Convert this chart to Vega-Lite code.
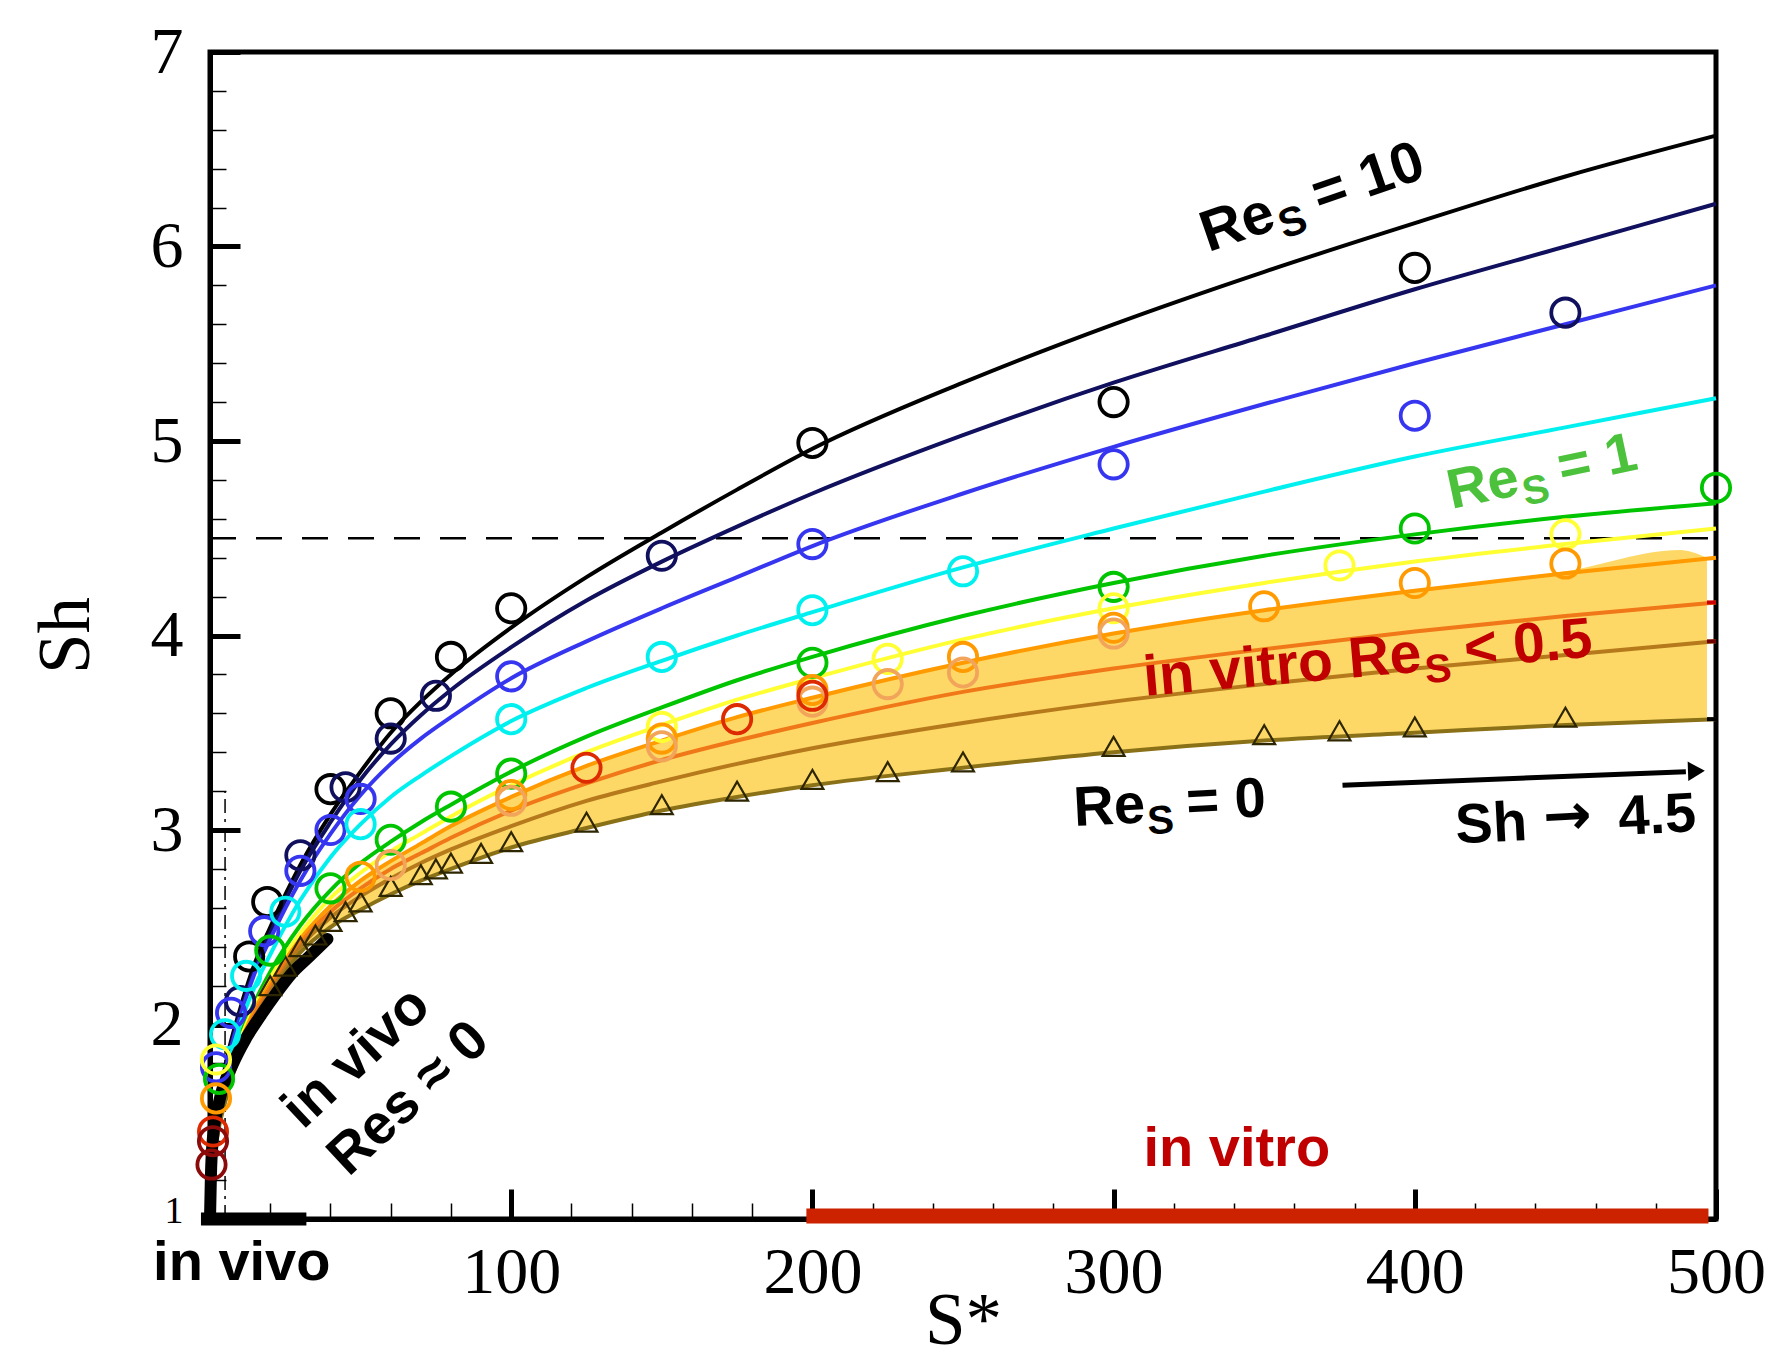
{
 "$schema": "https://vega.github.io/schema/vega-lite/v6.json",
 "width": 1506, "height": 1167,
 "autosize": {"type": "none"},
 "padding": {"left": 210, "top": 52, "right": 58, "bottom": 141},
 "background": "white",
 "config": {"view": {"stroke": "#000", "strokeWidth": 5}},
 "datasets": {
  "curves": [
   {"s":"Re10","S":0,"Sh":1.0},{"s":"Re10","S":1,"Sh":1.35},{"s":"Re10","S":2.5,"Sh":1.55},{"s":"Re10","S":5,"Sh":1.78},{"s":"Re10","S":10,"Sh":2.08},{"s":"Re10","S":15,"Sh":2.32},{"s":"Re10","S":20,"Sh":2.5},{"s":"Re10","S":30,"Sh":2.82},{"s":"Re10","S":40,"Sh":3.08},{"s":"Re10","S":50,"Sh":3.3},{"s":"Re10","S":60,"Sh":3.5},{"s":"Re10","S":70,"Sh":3.66},{"s":"Re10","S":80,"Sh":3.8},{"s":"Re10","S":100,"Sh":4.04},{"s":"Re10","S":125,"Sh":4.3},{"s":"Re10","S":150,"Sh":4.53},{"s":"Re10","S":175,"Sh":4.75},{"s":"Re10","S":200,"Sh":4.96},{"s":"Re10","S":250,"Sh":5.3},{"s":"Re10","S":300,"Sh":5.6},{"s":"Re10","S":350,"Sh":5.87},{"s":"Re10","S":400,"Sh":6.12},{"s":"Re10","S":450,"Sh":6.36},{"s":"Re10","S":500,"Sh":6.57},
   {"s":"n","S":0,"Sh":1.0},{"s":"n","S":1,"Sh":1.34},{"s":"n","S":2.5,"Sh":1.54},{"s":"n","S":5,"Sh":1.76},{"s":"n","S":10,"Sh":2.06},{"s":"n","S":15,"Sh":2.29},{"s":"n","S":20,"Sh":2.47},{"s":"n","S":30,"Sh":2.79},{"s":"n","S":40,"Sh":3.04},{"s":"n","S":50,"Sh":3.26},{"s":"n","S":60,"Sh":3.44},{"s":"n","S":70,"Sh":3.59},{"s":"n","S":80,"Sh":3.72},{"s":"n","S":100,"Sh":3.94},{"s":"n","S":125,"Sh":4.18},{"s":"n","S":150,"Sh":4.38},{"s":"n","S":175,"Sh":4.56},{"s":"n","S":200,"Sh":4.73},{"s":"n","S":250,"Sh":5.03},{"s":"n","S":300,"Sh":5.3},{"s":"n","S":350,"Sh":5.54},{"s":"n","S":400,"Sh":5.78},{"s":"n","S":450,"Sh":6.0},{"s":"n","S":500,"Sh":6.22},
   {"s":"b","S":0,"Sh":1.0},{"s":"b","S":1,"Sh":1.33},{"s":"b","S":2.5,"Sh":1.53},{"s":"b","S":5,"Sh":1.75},{"s":"b","S":10,"Sh":2.04},{"s":"b","S":15,"Sh":2.27},{"s":"b","S":20,"Sh":2.44},{"s":"b","S":30,"Sh":2.74},{"s":"b","S":40,"Sh":2.98},{"s":"b","S":50,"Sh":3.18},{"s":"b","S":60,"Sh":3.34},{"s":"b","S":70,"Sh":3.47},{"s":"b","S":80,"Sh":3.58},{"s":"b","S":100,"Sh":3.78},{"s":"b","S":125,"Sh":3.97},{"s":"b","S":150,"Sh":4.14},{"s":"b","S":175,"Sh":4.3},{"s":"b","S":200,"Sh":4.46},{"s":"b","S":250,"Sh":4.73},{"s":"b","S":300,"Sh":4.97},{"s":"b","S":350,"Sh":5.19},{"s":"b","S":400,"Sh":5.4},{"s":"b","S":450,"Sh":5.6},{"s":"b","S":500,"Sh":5.8},
   {"s":"c","S":0,"Sh":1.0},{"s":"c","S":1,"Sh":1.3},{"s":"c","S":2.5,"Sh":1.5},{"s":"c","S":5,"Sh":1.72},{"s":"c","S":10,"Sh":2.0},{"s":"c","S":15,"Sh":2.2},{"s":"c","S":20,"Sh":2.36},{"s":"c","S":30,"Sh":2.64},{"s":"c","S":40,"Sh":2.86},{"s":"c","S":50,"Sh":3.03},{"s":"c","S":60,"Sh":3.17},{"s":"c","S":70,"Sh":3.28},{"s":"c","S":80,"Sh":3.38},{"s":"c","S":100,"Sh":3.56},{"s":"c","S":125,"Sh":3.73},{"s":"c","S":150,"Sh":3.87},{"s":"c","S":175,"Sh":4.0},{"s":"c","S":200,"Sh":4.12},{"s":"c","S":250,"Sh":4.35},{"s":"c","S":300,"Sh":4.55},{"s":"c","S":350,"Sh":4.74},{"s":"c","S":400,"Sh":4.92},{"s":"c","S":450,"Sh":5.07},{"s":"c","S":500,"Sh":5.22},
   {"s":"Re1","S":0,"Sh":1.0},{"s":"Re1","S":1,"Sh":1.29},{"s":"Re1","S":2.5,"Sh":1.48},{"s":"Re1","S":5,"Sh":1.68},{"s":"Re1","S":10,"Sh":1.94},{"s":"Re1","S":15,"Sh":2.12},{"s":"Re1","S":20,"Sh":2.27},{"s":"Re1","S":30,"Sh":2.51},{"s":"Re1","S":40,"Sh":2.69},{"s":"Re1","S":50,"Sh":2.83},{"s":"Re1","S":60,"Sh":2.94},{"s":"Re1","S":70,"Sh":3.04},{"s":"Re1","S":80,"Sh":3.13},{"s":"Re1","S":100,"Sh":3.3},{"s":"Re1","S":125,"Sh":3.48},{"s":"Re1","S":150,"Sh":3.63},{"s":"Re1","S":175,"Sh":3.77},{"s":"Re1","S":200,"Sh":3.89},{"s":"Re1","S":250,"Sh":4.1},{"s":"Re1","S":300,"Sh":4.27},{"s":"Re1","S":350,"Sh":4.41},{"s":"Re1","S":400,"Sh":4.52},{"s":"Re1","S":450,"Sh":4.61},{"s":"Re1","S":500,"Sh":4.68},
   {"s":"y","S":0,"Sh":1.0},{"s":"y","S":1,"Sh":1.28},{"s":"y","S":2.5,"Sh":1.47},{"s":"y","S":5,"Sh":1.66},{"s":"y","S":10,"Sh":1.92},{"s":"y","S":15,"Sh":2.1},{"s":"y","S":20,"Sh":2.24},{"s":"y","S":30,"Sh":2.47},{"s":"y","S":40,"Sh":2.65},{"s":"y","S":50,"Sh":2.78},{"s":"y","S":60,"Sh":2.89},{"s":"y","S":70,"Sh":2.98},{"s":"y","S":80,"Sh":3.07},{"s":"y","S":100,"Sh":3.23},{"s":"y","S":125,"Sh":3.4},{"s":"y","S":150,"Sh":3.54},{"s":"y","S":175,"Sh":3.67},{"s":"y","S":200,"Sh":3.78},{"s":"y","S":250,"Sh":3.98},{"s":"y","S":300,"Sh":4.14},{"s":"y","S":350,"Sh":4.27},{"s":"y","S":400,"Sh":4.38},{"s":"y","S":450,"Sh":4.47},{"s":"y","S":500,"Sh":4.55},
   {"s":"o","S":0,"Sh":1.0},{"s":"o","S":1,"Sh":1.27},{"s":"o","S":2.5,"Sh":1.46},{"s":"o","S":5,"Sh":1.65},{"s":"o","S":10,"Sh":1.9},{"s":"o","S":15,"Sh":2.08},{"s":"o","S":20,"Sh":2.21},{"s":"o","S":30,"Sh":2.44},{"s":"o","S":40,"Sh":2.61},{"s":"o","S":50,"Sh":2.74},{"s":"o","S":60,"Sh":2.84},{"s":"o","S":70,"Sh":2.93},{"s":"o","S":80,"Sh":3.02},{"s":"o","S":100,"Sh":3.17},{"s":"o","S":125,"Sh":3.33},{"s":"o","S":150,"Sh":3.46},{"s":"o","S":175,"Sh":3.58},{"s":"o","S":200,"Sh":3.68},{"s":"o","S":250,"Sh":3.86},{"s":"o","S":300,"Sh":4.01},{"s":"o","S":350,"Sh":4.13},{"s":"o","S":400,"Sh":4.23},{"s":"o","S":450,"Sh":4.32},{"s":"o","S":500,"Sh":4.4},
   {"s":"do","S":0,"Sh":1.0},{"s":"do","S":1,"Sh":1.26},{"s":"do","S":2.5,"Sh":1.45},{"s":"do","S":5,"Sh":1.63},{"s":"do","S":10,"Sh":1.88},{"s":"do","S":15,"Sh":2.06},{"s":"do","S":20,"Sh":2.19},{"s":"do","S":30,"Sh":2.42},{"s":"do","S":40,"Sh":2.58},{"s":"do","S":50,"Sh":2.7},{"s":"do","S":60,"Sh":2.8},{"s":"do","S":70,"Sh":2.88},{"s":"do","S":80,"Sh":2.96},{"s":"do","S":100,"Sh":3.1},{"s":"do","S":125,"Sh":3.24},{"s":"do","S":150,"Sh":3.36},{"s":"do","S":175,"Sh":3.46},{"s":"do","S":200,"Sh":3.55},{"s":"do","S":250,"Sh":3.71},{"s":"do","S":300,"Sh":3.83},{"s":"do","S":350,"Sh":3.93},{"s":"do","S":400,"Sh":4.02},{"s":"do","S":450,"Sh":4.1},{"s":"do","S":500,"Sh":4.17},
   {"s":"br","S":0,"Sh":1.0},{"s":"br","S":1,"Sh":1.25},{"s":"br","S":2.5,"Sh":1.44},{"s":"br","S":5,"Sh":1.62},{"s":"br","S":10,"Sh":1.87},{"s":"br","S":15,"Sh":2.04},{"s":"br","S":20,"Sh":2.17},{"s":"br","S":30,"Sh":2.4},{"s":"br","S":40,"Sh":2.55},{"s":"br","S":50,"Sh":2.66},{"s":"br","S":60,"Sh":2.75},{"s":"br","S":70,"Sh":2.83},{"s":"br","S":80,"Sh":2.9},{"s":"br","S":100,"Sh":3.02},{"s":"br","S":125,"Sh":3.15},{"s":"br","S":150,"Sh":3.25},{"s":"br","S":175,"Sh":3.34},{"s":"br","S":200,"Sh":3.42},{"s":"br","S":250,"Sh":3.55},{"s":"br","S":300,"Sh":3.66},{"s":"br","S":350,"Sh":3.75},{"s":"br","S":400,"Sh":3.83},{"s":"br","S":450,"Sh":3.9},{"s":"br","S":500,"Sh":3.97},
   {"s":"Re0","S":0,"Sh":1.0},{"s":"Re0","S":1,"Sh":1.24},{"s":"Re0","S":2.5,"Sh":1.43},{"s":"Re0","S":5,"Sh":1.6},{"s":"Re0","S":10,"Sh":1.85},{"s":"Re0","S":15,"Sh":2.02},{"s":"Re0","S":20,"Sh":2.15},{"s":"Re0","S":30,"Sh":2.37},{"s":"Re0","S":40,"Sh":2.5},{"s":"Re0","S":50,"Sh":2.59},{"s":"Re0","S":60,"Sh":2.67},{"s":"Re0","S":70,"Sh":2.74},{"s":"Re0","S":80,"Sh":2.8},{"s":"Re0","S":100,"Sh":2.91},{"s":"Re0","S":125,"Sh":3.01},{"s":"Re0","S":150,"Sh":3.1},{"s":"Re0","S":175,"Sh":3.17},{"s":"Re0","S":200,"Sh":3.23},{"s":"Re0","S":250,"Sh":3.32},{"s":"Re0","S":300,"Sh":3.4},{"s":"Re0","S":350,"Sh":3.46},{"s":"Re0","S":400,"Sh":3.5},{"s":"Re0","S":450,"Sh":3.54},{"s":"Re0","S":500,"Sh":3.57}
  ],
  "band": [
   {"S":0,"Sh":1.0,"Sh2":1.0},{"S":1,"Sh":1.24,"Sh2":1.27},{"S":2.5,"Sh":1.43,"Sh2":1.46},{"S":5,"Sh":1.6,"Sh2":1.65},{"S":10,"Sh":1.85,"Sh2":1.9},{"S":15,"Sh":2.02,"Sh2":2.08},{"S":20,"Sh":2.15,"Sh2":2.21},{"S":30,"Sh":2.37,"Sh2":2.44},{"S":40,"Sh":2.5,"Sh2":2.61},{"S":50,"Sh":2.59,"Sh2":2.74},{"S":60,"Sh":2.67,"Sh2":2.84},{"S":70,"Sh":2.74,"Sh2":2.93},{"S":80,"Sh":2.8,"Sh2":3.02},{"S":100,"Sh":2.91,"Sh2":3.17},{"S":125,"Sh":3.01,"Sh2":3.33},{"S":150,"Sh":3.1,"Sh2":3.46},{"S":175,"Sh":3.17,"Sh2":3.58},{"S":200,"Sh":3.23,"Sh2":3.68},{"S":250,"Sh":3.32,"Sh2":3.86},{"S":300,"Sh":3.4,"Sh2":4.01},{"S":350,"Sh":3.46,"Sh2":4.13},{"S":400,"Sh":3.5,"Sh2":4.23},{"S":450,"Sh":3.54,"Sh2":4.33},{"S":488,"Sh":3.565,"Sh2":4.44},{"S":497,"Sh":3.57,"Sh2":4.4}
  ],
  "circles": [
   {"s":"Re10","S":13,"Sh":2.35},{"s":"Re10","S":19,"Sh":2.63},{"s":"Re10","S":40,"Sh":3.21},{"s":"Re10","S":60,"Sh":3.6},{"s":"Re10","S":80,"Sh":3.89},{"s":"Re10","S":100,"Sh":4.14},{"s":"Re10","S":200,"Sh":4.99},{"s":"Re10","S":300,"Sh":5.2},{"s":"Re10","S":400,"Sh":5.89},
   {"s":"n","S":10,"Sh":2.12},{"s":"n","S":30,"Sh":2.87},{"s":"n","S":45,"Sh":3.22},{"s":"n","S":60,"Sh":3.47},{"s":"n","S":75,"Sh":3.69},{"s":"n","S":150,"Sh":4.41},{"s":"n","S":450,"Sh":5.66},
   {"s":"b","S":2,"Sh":1.78},{"s":"b","S":7,"Sh":2.06},{"s":"b","S":18,"Sh":2.48},{"s":"b","S":30,"Sh":2.79},{"s":"b","S":40,"Sh":3.0},{"s":"b","S":50,"Sh":3.16},{"s":"b","S":100,"Sh":3.79},{"s":"b","S":200,"Sh":4.47},{"s":"b","S":300,"Sh":4.88},{"s":"b","S":400,"Sh":5.13},
   {"s":"c","S":5,"Sh":1.95},{"s":"c","S":12,"Sh":2.25},{"s":"c","S":25,"Sh":2.58},{"s":"c","S":50,"Sh":3.03},{"s":"c","S":100,"Sh":3.57},{"s":"c","S":150,"Sh":3.89},{"s":"c","S":200,"Sh":4.13},{"s":"c","S":250,"Sh":4.33},
   {"s":"Re1","S":3,"Sh":1.72},{"s":"Re1","S":20,"Sh":2.38},{"s":"Re1","S":40,"Sh":2.7},{"s":"Re1","S":60,"Sh":2.95},{"s":"Re1","S":80,"Sh":3.12},{"s":"Re1","S":100,"Sh":3.29},{"s":"Re1","S":200,"Sh":3.86},{"s":"Re1","S":300,"Sh":4.25},{"s":"Re1","S":400,"Sh":4.55},{"s":"Re1","S":500,"Sh":4.76},
   {"s":"y","S":2,"Sh":1.82},{"s":"y","S":150,"Sh":3.53},{"s":"y","S":225,"Sh":3.88},{"s":"y","S":300,"Sh":4.14},{"s":"y","S":375,"Sh":4.36},{"s":"y","S":450,"Sh":4.52},
   {"s":"o","S":2,"Sh":1.62},{"s":"o","S":50,"Sh":2.76},{"s":"o","S":100,"Sh":3.18},{"s":"o","S":150,"Sh":3.47},{"s":"o","S":200,"Sh":3.72},{"s":"o","S":250,"Sh":3.89},{"s":"o","S":300,"Sh":4.04},{"s":"o","S":350,"Sh":4.15},{"s":"o","S":400,"Sh":4.27},{"s":"o","S":450,"Sh":4.37},
   {"s":"tan","S":60,"Sh":2.82},{"s":"tan","S":100,"Sh":3.15},{"s":"tan","S":150,"Sh":3.43},{"s":"tan","S":200,"Sh":3.66},{"s":"tan","S":225,"Sh":3.75},{"s":"tan","S":250,"Sh":3.81},{"s":"tan","S":300,"Sh":4.01},
   {"s":"red","S":1,"Sh":1.45},{"s":"red","S":125,"Sh":3.32},{"s":"red","S":175,"Sh":3.57},{"s":"red","S":200,"Sh":3.69},
   {"s":"dred","S":0.5,"Sh":1.28},{"s":"dred","S":1,"Sh":1.4}
  ],
  "tri": [
   {"S":20,"Sh":2.2},{"S":25,"Sh":2.3},{"S":30,"Sh":2.4},{"S":35,"Sh":2.46},{"S":40,"Sh":2.53},{"S":45,"Sh":2.58},{"S":50,"Sh":2.63},{"S":60,"Sh":2.71},{"S":70,"Sh":2.77},{"S":75,"Sh":2.8},{"S":80,"Sh":2.83},{"S":90,"Sh":2.88},{"S":100,"Sh":2.94},{"S":125,"Sh":3.04},{"S":150,"Sh":3.13},{"S":175,"Sh":3.2},{"S":200,"Sh":3.26},{"S":225,"Sh":3.3},{"S":250,"Sh":3.35},{"S":300,"Sh":3.43},{"S":350,"Sh":3.49},{"S":375,"Sh":3.51},{"S":400,"Sh":3.53},{"S":450,"Sh":3.58}
  ],
  "invivo": [
   {"S":0,"Sh":1.0},{"S":0.3,"Sh":1.22},{"S":1,"Sh":1.42},{"S":3,"Sh":1.6},{"S":7.7,"Sh":1.8},{"S":12,"Sh":1.93},{"S":17,"Sh":2.05},{"S":22,"Sh":2.16},{"S":27,"Sh":2.26},{"S":33,"Sh":2.35},{"S":39,"Sh":2.44}
  ]
 },
 "encoding": {
  "x": {"field": "S", "type": "quantitative",
   "scale": {"domain": [0, 500], "nice": false, "zero": false},
   "axis": {
    "title": "S*",
    "values": [0,20,40,60,80,100,120,140,160,180,200,220,240,260,280,300,320,340,360,380,400,420,440,460,480,500],
    "labelExpr": "datum.value % 100 === 0 && datum.value > 0 ? '' + datum.value : ''",
    "grid": false, "domainColor": "#000", "domainWidth": 5, "tickColor": "#000",
    "tickSize": {"condition": {"test": "datum.value % 100 === 0", "value": -30}, "value": -16},
    "tickWidth": {"condition": {"test": "datum.value % 100 === 0", "value": 5}, "value": 1.5},
    "labelFont": "Liberation Serif", "labelFontSize": 66, "labelColor": "#000",
    "labelPadding": 51, "labelBaseline": "top", "labelFlush": false, "labelOverlap": false, "labelBound": false,
    "titleFont": "Liberation Serif", "titleFontSize": 73, "titleFontWeight": "normal", "titleColor": "#000",
    "titleY": 124, "titleBaseline": "alphabetic"
   }
  },
  "y": {"field": "Sh", "type": "quantitative",
   "scale": {"domain": [1, 7], "nice": false, "zero": false},
   "axis": {
    "title": "Sh",
    "values": [1,1.2,1.4,1.6,1.8,2,2.2,2.4,2.6,2.8,3,3.2,3.4,3.6,3.8,4,4.2,4.4,4.6,4.8,5,5.2,5.4,5.6,5.8,6,6.2,6.4,6.6,6.8,7],
    "labelExpr": "abs(datum.value - round(datum.value)) < 0.001 ? '' + round(datum.value) : ''",
    "grid": false, "domainColor": "#000", "domainWidth": 5, "tickColor": "#000",
    "tickSize": {"condition": {"test": "abs(datum.value - round(datum.value)) < 0.001", "value": -30}, "value": -16},
    "tickWidth": {"condition": {"test": "abs(datum.value - round(datum.value)) < 0.001", "value": 5}, "value": 1.5},
    "labelFont": "Liberation Serif",
    "labelFontSize": {"condition": {"test": "datum.value === 1", "value": 38}, "value": 66},
    "labelOffset": {"condition": {"test": "datum.value === 1", "value": -8}, "value": 0},
    "labelColor": "#000", "labelPadding": 57, "labelAlign": "right", "labelBaseline": "middle",
    "labelFlush": false, "labelOverlap": false, "labelBound": false,
    "titleFont": "Liberation Serif", "titleFontSize": 73, "titleFontWeight": "normal", "titleColor": "#000",
    "titleX": -122, "titleY": 583, "titleAngle": 270, "titleAlign": "center", "titleBaseline": "alphabetic"
   }
  }
 },
 "layer": [
  {"data": {"name": "band"}, "mark": {"type": "area", "color": "#fdd866", "interpolate": "monotone"},
   "encoding": {"y2": {"field": "Sh2"}}},
  {"data": {"values": [{"S": 0, "Sh": 4.5}, {"S": 500, "Sh": 4.5}]},
   "mark": {"type": "line", "color": "#000", "strokeWidth": 2.5, "strokeDash": [26, 20]}, "encoding": {}},
  {"data": {"values": [{"S": 5, "Sh": 1}, {"S": 5, "Sh": 3.2}]},
   "mark": {"type": "line", "color": "#000", "strokeWidth": 1.5, "strokeDash": [14, 6, 3, 6]}, "encoding": {}},
  {"data": {"name": "curves"}, "mark": {"type": "line", "strokeWidth": 4, "interpolate": "monotone"},
   "encoding": {"color": {"field": "s", "type": "nominal", "legend": null,
     "scale": {"domain": ["Re10","n","b","c","Re1","y","o","do","br","Re0","tan","red","dred"],
               "range": ["#000000","#10105e","#3636f0","#00f0f0","#00c400","#ffff33","#ff9a00","#f07818","#b67a1c","#8a7016","#f2a55a","#dd2a00","#8b0a0a"]}},
     "detail": {"field": "s"}}},
  {"data": {"name": "invivo"}, "mark": {"type": "line", "color": "#000", "strokeWidth": 12, "interpolate": "monotone", "strokeCap": "round"}, "encoding": {}},
  {"data": {"name": "tri"}, "mark": {"type": "point", "shape": "triangle-up", "size": 480, "filled": false, "color": "#2e2600", "strokeWidth": 2.2, "opacity": 1}, "encoding": {}},
  {"data": {"name": "circles"}, "mark": {"type": "point", "shape": "circle", "size": 800, "filled": false, "strokeWidth": 3.8, "opacity": 1},
   "encoding": {"color": {"field": "s", "type": "nominal", "legend": null,
     "scale": {"domain": ["Re10","n","b","c","Re1","y","o","do","br","Re0","tan","red","dred"],
               "range": ["#000000","#10105e","#3636f0","#00f0f0","#00c400","#ffff33","#ff9a00","#f07818","#b67a1c","#8a7016","#f2a55a","#dd2a00","#8b0a0a"]}}}},
  {"data": {"values": [{"S": -3, "S2": 32, "Sh": 1}]}, "mark": {"type": "rule", "color": "#000", "strokeWidth": 13}, "encoding": {"x2": {"field": "S2"}}},
  {"data": {"values": [{"S": 198, "S2": 497.5, "Sh": 1.015}]}, "mark": {"type": "rule", "color": "#cc2200", "strokeWidth": 15}, "encoding": {"x2": {"field": "S2"}}},
  {"data": {"values": [{"S": 497, "S2": 500, "Sh": 4.17}]}, "mark": {"type": "rule", "color": "#cc0000", "strokeWidth": 4}, "encoding": {"x2": {"field": "S2"}}},
  {"data": {"values": [{"S": 497, "S2": 500, "Sh": 3.97}]}, "mark": {"type": "rule", "color": "#700000", "strokeWidth": 4}, "encoding": {"x2": {"field": "S2"}}},
  {"data": {"values": [{"S": 497, "S2": 500, "Sh": 3.57}]}, "mark": {"type": "rule", "color": "#000", "strokeWidth": 4}, "encoding": {"x2": {"field": "S2"}}},
  {"data": {"values": [{"S": 376, "Sh": 3.23}, {"S": 490, "Sh": 3.3}]}, "mark": {"type": "line", "color": "#000", "strokeWidth": 5}, "encoding": {}},
  {"data": {"values": [{"S": 493.5, "Sh": 3.303}]}, "mark": {"type": "point", "shape": "triangle-right", "size": 380, "filled": true, "color": "#000", "opacity": 1, "angle": 358}, "encoding": {}},

  {"data": {"values": [{"S": 331.4, "Sh": 5.97, "t": "Re"}]}, "mark": {"type": "text", "font": "Liberation Sans", "fontWeight": "bold", "fontSize": 58, "align": "left", "baseline": "alphabetic", "angle": 341, "color": "#000"}, "encoding": {"text": {"field": "t"}}},
  {"data": {"values": [{"S": 331.4, "Sh": 5.97, "t": "S"}]}, "mark": {"type": "text", "font": "Liberation Sans", "fontWeight": "bold", "fontSize": 41, "align": "left", "baseline": "alphabetic", "angle": 341, "dx": 76, "dy": 12, "color": "#000"}, "encoding": {"text": {"field": "t"}}},
  {"data": {"values": [{"S": 331.4, "Sh": 5.97, "t": "= 10"}]}, "mark": {"type": "text", "font": "Liberation Sans", "fontWeight": "bold", "fontSize": 58, "align": "left", "baseline": "alphabetic", "angle": 341, "dx": 118, "color": "#000"}, "encoding": {"text": {"field": "t"}}},

  {"data": {"values": [{"S": 412.2, "Sh": 4.65, "t": "Re"}]}, "mark": {"type": "text", "font": "Liberation Sans", "fontWeight": "bold", "fontSize": 56, "align": "left", "baseline": "alphabetic", "angle": 348, "color": "#4cc23c"}, "encoding": {"text": {"field": "t"}}},
  {"data": {"values": [{"S": 412.2, "Sh": 4.65, "t": "S"}]}, "mark": {"type": "text", "font": "Liberation Sans", "fontWeight": "bold", "fontSize": 40, "align": "left", "baseline": "alphabetic", "angle": 348, "dx": 73, "dy": 12, "color": "#4cc23c"}, "encoding": {"text": {"field": "t"}}},
  {"data": {"values": [{"S": 412.2, "Sh": 4.65, "t": "= 1"}]}, "mark": {"type": "text", "font": "Liberation Sans", "fontWeight": "bold", "fontSize": 56, "align": "left", "baseline": "alphabetic", "angle": 348, "dx": 113, "color": "#4cc23c"}, "encoding": {"text": {"field": "t"}}},

  {"data": {"values": [{"S": 310.4, "Sh": 3.69, "t": "in vitro Re"}]}, "mark": {"type": "text", "font": "Liberation Sans", "fontWeight": "bold", "fontSize": 57, "align": "left", "baseline": "alphabetic", "angle": 355, "color": "#c00000"}, "encoding": {"text": {"field": "t"}}},
  {"data": {"values": [{"S": 310.4, "Sh": 3.69, "t": "S"}]}, "mark": {"type": "text", "font": "Liberation Sans", "fontWeight": "bold", "fontSize": 40, "align": "left", "baseline": "alphabetic", "angle": 355, "dx": 281, "dy": 12, "color": "#c00000"}, "encoding": {"text": {"field": "t"}}},
  {"data": {"values": [{"S": 310.4, "Sh": 3.69, "t": "< 0.5"}]}, "mark": {"type": "text", "font": "Liberation Sans", "fontWeight": "bold", "fontSize": 57, "align": "left", "baseline": "alphabetic", "angle": 355, "dx": 322, "color": "#c00000"}, "encoding": {"text": {"field": "t"}}},

  {"data": {"values": [{"S": 287, "Sh": 3.02, "t": "Re"}]}, "mark": {"type": "text", "font": "Liberation Sans", "fontWeight": "bold", "fontSize": 56, "align": "left", "baseline": "alphabetic", "angle": 357, "color": "#000"}, "encoding": {"text": {"field": "t"}}},
  {"data": {"values": [{"S": 287, "Sh": 3.02, "t": "S"}]}, "mark": {"type": "text", "font": "Liberation Sans", "fontWeight": "bold", "fontSize": 40, "align": "left", "baseline": "alphabetic", "angle": 357, "dx": 73, "dy": 12, "color": "#000"}, "encoding": {"text": {"field": "t"}}},
  {"data": {"values": [{"S": 287, "Sh": 3.02, "t": "= 0"}]}, "mark": {"type": "text", "font": "Liberation Sans", "fontWeight": "bold", "fontSize": 56, "align": "left", "baseline": "alphabetic", "angle": 357, "dx": 113, "color": "#000"}, "encoding": {"text": {"field": "t"}}},

  {"data": {"values": [{"S": 413.8, "Sh": 2.93, "t": "Sh"}]}, "mark": {"type": "text", "font": "Liberation Sans", "fontWeight": "bold", "fontSize": 56, "align": "left", "baseline": "alphabetic", "angle": 357, "color": "#000"}, "encoding": {"text": {"field": "t"}}},
  {"data": {"values": [{"S": 413.8, "Sh": 2.93, "t": "→"}]}, "mark": {"type": "text", "font": "DejaVu Sans", "fontWeight": "bold", "fontSize": 58, "align": "left", "baseline": "alphabetic", "angle": 357, "dx": 88, "dy": -3, "color": "#000"}, "encoding": {"text": {"field": "t"}}},
  {"data": {"values": [{"S": 413.8, "Sh": 2.93, "t": "4.5"}]}, "mark": {"type": "text", "font": "Liberation Sans", "fontWeight": "bold", "fontSize": 56, "align": "left", "baseline": "alphabetic", "angle": 357, "dx": 163, "color": "#000"}, "encoding": {"text": {"field": "t"}}},

  {"data": {"values": [{"S": 48.6, "Sh": 1.83, "t": "in vivo"}]}, "mark": {"type": "text", "font": "Liberation Sans", "fontWeight": "bold", "fontSize": 56, "align": "center", "baseline": "middle", "angle": 317, "color": "#000"}, "encoding": {"text": {"field": "t"}}},
  {"data": {"values": [{"S": 65.9, "Sh": 1.62, "t": "Res ≈ 0"}]}, "mark": {"type": "text", "font": "Liberation Sans", "fontWeight": "bold", "fontSize": 56, "align": "center", "baseline": "middle", "angle": 317, "color": "#000"}, "encoding": {"text": {"field": "t"}}},
  {"data": {"values": [{"S": 340.9, "Sh": 1.36, "t": "in vitro"}]}, "mark": {"type": "text", "font": "Liberation Sans", "fontWeight": "bold", "fontSize": 56, "align": "center", "baseline": "middle", "color": "#c00000"}, "encoding": {"text": {"field": "t"}}},
  {"data": {"values": [{"S": -18.9, "Sh": 0.685, "t": "in vivo"}]}, "mark": {"type": "text", "font": "Liberation Sans", "fontWeight": "bold", "fontSize": 56, "align": "left", "baseline": "alphabetic", "color": "#000"}, "encoding": {"text": {"field": "t"}}}
 ]
}
